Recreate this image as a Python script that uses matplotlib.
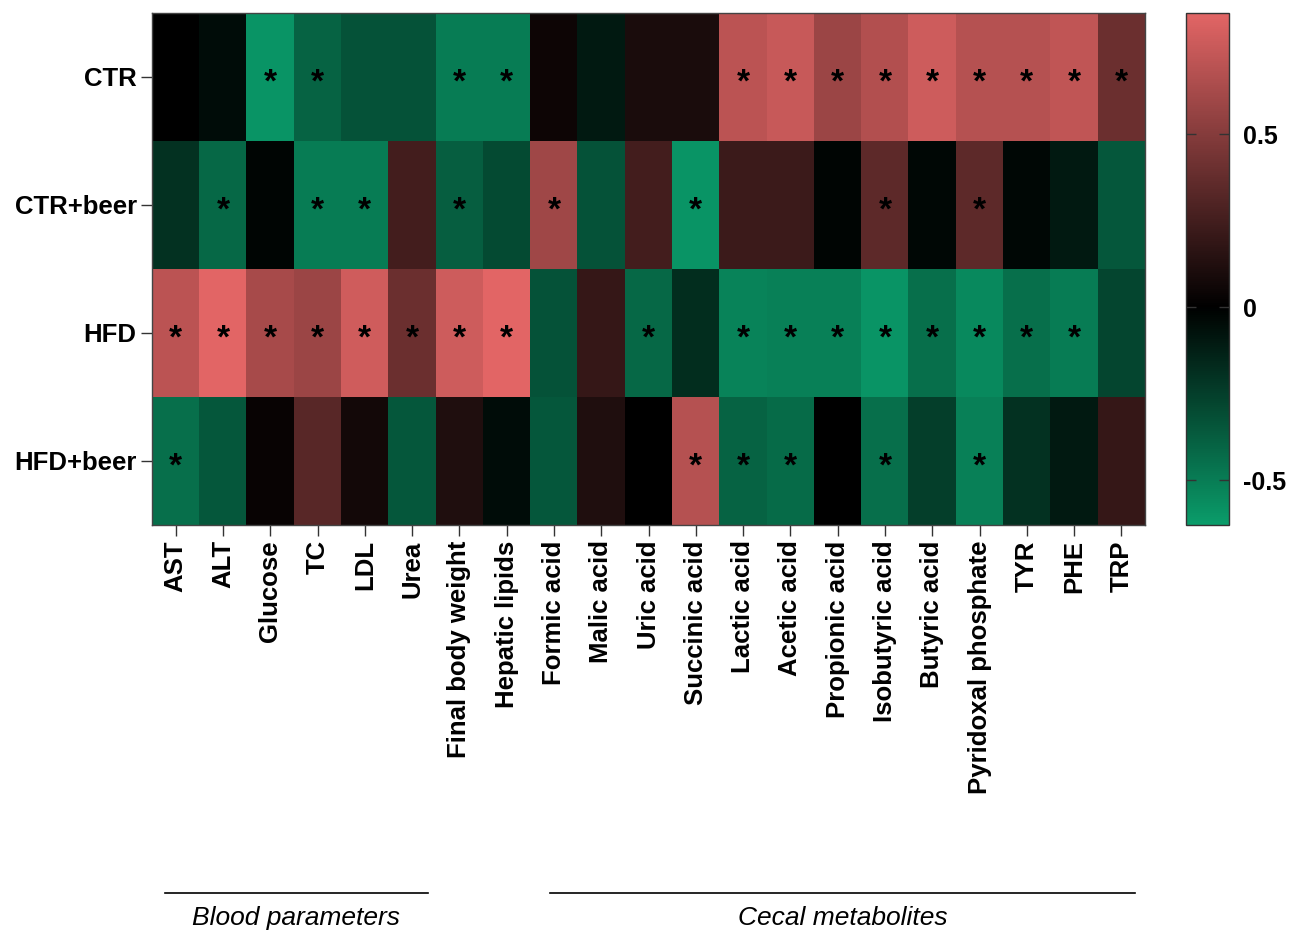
import matplotlib
matplotlib.use("Agg")
import matplotlib.pyplot as plt
import numpy as np
from matplotlib.colors import LinearSegmentedColormap, Normalize
from matplotlib.lines import Line2D

plt.rcParams["font.family"] = ["Liberation Sans", "DejaVu Sans"]

# ── Data ─────────────────────────────────────────────────────────────────────
groups = ["CTR", "CTR+beer", "HFD", "HFD+beer"]

variables = [
    "AST", "ALT", "Glucose", "TC", "LDL", "Urea", "Final body weight",
    "Hepatic lipids", "Formic acid", "Malic acid", "Uric acid",
    "Succinic acid", "Lactic acid", "Acetic acid", "Propionic acid",
    "Isobutyric acid", "Butyric acid", "Pyridoxal phosphate",
    "TYR", "PHE", "TRP",
]

ctr      = [0.00, -0.05, -0.60, -0.40, -0.33, -0.33, -0.50, -0.50, 0.05, -0.10, 0.10,
            0.10, 0.70, 0.75, 0.58, 0.67, 0.77, 0.68, 0.68, 0.72, 0.40]
ctr_beer = [-0.20, -0.42, -0.02, -0.50, -0.50, 0.25, -0.38, -0.30, 0.60, -0.33, 0.25,
            -0.60, 0.22, 0.22, -0.02, 0.35, -0.03, 0.35, -0.03, -0.10, -0.35]
hfd      = [0.70, 0.85, 0.63, 0.58, 0.78, 0.40, 0.77, 0.85, -0.33, 0.20, -0.42,
            -0.18, -0.53, -0.52, -0.52, -0.60, -0.45, -0.55, -0.45, -0.50, -0.28]
hfd_beer = [-0.45, -0.35, 0.03, 0.33, 0.07, -0.35, 0.12, -0.05, -0.35, 0.12, 0.00,
            0.68, -0.40, -0.43, 0.00, -0.45, -0.25, -0.52, -0.20, -0.10, 0.20]

# significance flags (1 = *)
sig_ctr      = [0, 0, 1, 1, 0, 0, 1, 1, 0, 0, 0, 0, 1, 1, 1, 1, 1, 1, 1, 1, 1]
sig_ctr_beer = [0, 1, 0, 1, 1, 0, 1, 0, 1, 0, 0, 1, 0, 0, 0, 1, 0, 1, 0, 0, 0]
sig_hfd      = [1, 1, 1, 1, 1, 1, 1, 1, 0, 0, 1, 0, 1, 1, 1, 1, 1, 1, 1, 1, 0]
sig_hfd_beer = [1, 0, 0, 0, 0, 0, 0, 0, 0, 0, 0, 1, 1, 1, 0, 1, 0, 1, 0, 0, 0]

cbar_ticks = [-0.5, 0, 0.5]
cbar_labels = ["-0.5", "0", "0.5"]
vmin, vmax = -0.63, 0.85

values = np.array([ctr, ctr_beer, hfd, hfd_beer])
sig = np.array([sig_ctr, sig_ctr_beer, sig_hfd, sig_hfd_beer])

# green → black → red, black pinned at 0
zero_pos = (0 - vmin) / (vmax - vmin)
cmap = LinearSegmentedColormap.from_list(
    "gbr", [(0.0, "#0a9c6a"), (zero_pos, "#000000"), (1.0, "#e26565")])
norm = Normalize(vmin=vmin, vmax=vmax)

# ── Figure ───────────────────────────────────────────────────────────────────
fig = plt.figure(figsize=(12.96, 9.32), dpi=100)
W, H = 1296, 932
ax = fig.add_axes([152 / W, 1 - 525 / H, (1145 - 152) / W, (525 - 13) / H])
cax = fig.add_axes([1186 / W, 1 - 525 / H, 43 / W, (525 - 13) / H])

im = ax.imshow(values, cmap=cmap, norm=norm, aspect="auto",
               interpolation="nearest")

for i in range(values.shape[0]):
    for j in range(values.shape[1]):
        if sig[i, j]:
            ax.text(j, i + 0.05, "*", ha="center", va="center",
                    fontsize=24, fontweight="bold", color="black")

ax.set_xticks(np.arange(len(variables)))
ax.set_xticklabels(variables, rotation=90, fontsize=18.5, fontweight="bold")
ax.set_yticks(np.arange(len(groups)))
ax.set_yticklabels(groups, fontsize=18.5, fontweight="bold")
ax.tick_params(axis="both", length=8, width=1, color="#333333", pad=3)
for s in ax.spines.values():
    s.set_color("#444444")
    s.set_linewidth(1)

cb = fig.colorbar(im, cax=cax, ticks=cbar_ticks)
cb.ax.set_yticklabels(cbar_labels, fontsize=18, fontweight="bold")
cb.ax.tick_params(length=7, width=1, direction="in", left=True, right=True,
                  color="#333333", pad=10)
cb.outline.set_edgecolor("#333333")
cb.outline.set_linewidth(1)

# group brackets under the x labels
line_y = 1 - 893 / H
text_y = 1 - 918 / H
for x0, x1, label in [(165, 428, "Blood parameters"),
                      (550, 1135, "Cecal metabolites")]:
    fig.add_artist(Line2D([x0 / W, x1 / W], [line_y, line_y],
                          color="black", lw=1.2))
    fig.text((x0 + x1) / 2 / W, text_y, label, ha="center", va="center",
             fontsize=19, style="italic")

fig.savefig("out.png", dpi=100)
